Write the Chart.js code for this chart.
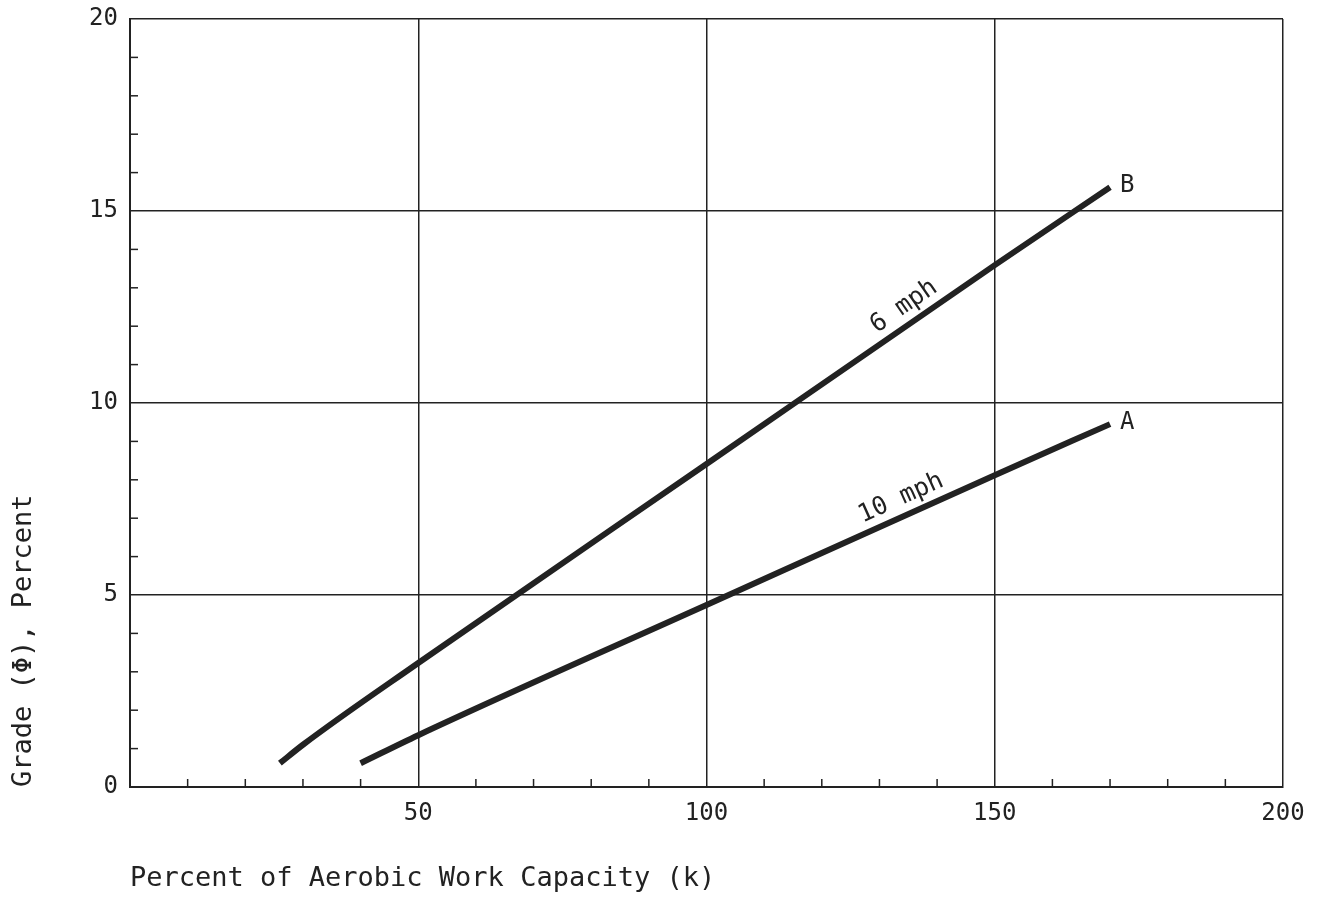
<!DOCTYPE html>
<html>
<head>
<meta charset="utf-8">
<title>Grade vs Aerobic Work Capacity</title>
<script src="https://cdn.jsdelivr.net/npm/chart.js@4.4.1/dist/chart.umd.min.js"></script>
<style>
  html, body { margin: 0; padding: 0; background: #fff; }
  #wrap { width: 1318px; height: 898px; }
</style>
</head>
<body>
<div id="wrap"><canvas id="chart"></canvas></div>
<script>
// values
const capacityB = [26, 30, 50, 100, 150, 170];
const gradeB    = [0.62, 1.1, 3.23, 8.41, 13.59, 15.62];
const capacityA = [40, 50, 100, 150, 170];
const gradeA    = [0.62, 1.35, 4.74, 8.12, 9.45];

const xTickLabels = [50, 100, 150, 200];
const yTickLabels = [0, 5, 10, 15, 20];

const curveNames = ['6 mph', '10 mph'];
const curveTags  = ['B', 'A'];
const labelAt    = [136, 135];   // capacity where the speed label sits

const INK = '#222';
const FONT = '"DejaVu Sans Mono", "Liberation Mono", monospace';

const toPoints = (xs, ys) => xs.map((x, i) => ({ x, y: ys[i] }));

// short inward ticks on both axes, and the curve labels
const extras = {
  id: 'extras',
  afterDatasetsDraw(chart) {
    const { ctx, chartArea: a, scales: { x, y } } = chart;
    ctx.save();
    ctx.strokeStyle = INK;
    ctx.lineWidth = 1.5;
    x.ticks.forEach(t => {
      if (t.value % 50 === 0) return;
      const px = x.getPixelForValue(t.value);
      ctx.beginPath(); ctx.moveTo(px, a.bottom); ctx.lineTo(px, a.bottom - 8); ctx.stroke();
    });
    y.ticks.forEach(t => {
      if (t.value % 5 === 0) return;
      const py = y.getPixelForValue(t.value);
      ctx.beginPath(); ctx.moveTo(a.left, py); ctx.lineTo(a.left + 8, py); ctx.stroke();
    });

    ctx.fillStyle = INK;
    chart.data.datasets.forEach((ds, i) => {
      const pts = chart.getDatasetMeta(i).data;
      // find the segment containing the label position
      const px = x.getPixelForValue(labelAt[i]);
      let k = 0;
      while (k < pts.length - 2 && pts[k + 1].x < px) k++;
      const p0 = pts[k], p1 = pts[k + 1];
      const ang = Math.atan2(p1.y - p0.y, p1.x - p0.x);
      const py = p0.y + (p1.y - p0.y) * (px - p0.x) / (p1.x - p0.x);
      ctx.save();
      ctx.translate(px, py);
      ctx.rotate(ang);
      ctx.font = '25px ' + FONT;
      ctx.textAlign = 'center';
      ctx.textBaseline = 'alphabetic';
      ctx.fillText(curveNames[i], 0, -11);
      ctx.restore();

      const end = pts[pts.length - 1];
      ctx.font = '24px ' + FONT;
      ctx.textAlign = 'left';
      ctx.textBaseline = 'middle';
      ctx.fillText(curveTags[i], end.x + 10, end.y - 1);
    });
    ctx.restore();
  }
};

new Chart(document.getElementById('chart'), {
  type: 'line',
  data: {
    datasets: [
      { label: 'B', data: toPoints(capacityB, gradeB) },
      { label: 'A', data: toPoints(capacityA, gradeA) },
    ],
  },
  options: {
    responsive: true,
    maintainAspectRatio: false,
    animation: false,
    layout: { padding: { top: 19, right: 35, left: 0, bottom: 0 } },
    elements: {
      line: { borderColor: INK, borderWidth: 6, tension: 0.3, cubicInterpolationMode: 'monotone', borderCapStyle: 'butt' },
      point: { radius: 0, hoverRadius: 0 },
    },
    plugins: { legend: { display: false }, tooltip: { enabled: false } },
    scales: {
      x: {
        type: 'linear', min: 0, max: 200,
        afterFit: s => { s.height = 111; s.paddingLeft = 0; s.paddingRight = 0; },
        ticks: {
          stepSize: 10, autoSkip: false, maxRotation: 0, padding: 12,
          color: INK, font: { family: FONT, size: 24 },
          callback: v => xTickLabels.includes(v) ? String(v) : '',
        },
        grid: {
          drawTicks: false,
          color: c => (c.tick && c.tick.value % 50 === 0) ? INK : 'rgba(0,0,0,0)',
          lineWidth: 1.5,
        },
        border: { display: true, color: INK, width: 2 },
        title: {
          display: true, text: 'Percent of Aerobic Work Capacity (k)', align: 'start',
          color: INK, font: { family: FONT, size: 27, lineHeight: 1.2 },
          padding: { top: 0, bottom: 3 },
        },
      },
      y: {
        type: 'linear', min: 0, max: 20,
        afterFit: s => { s.width = 130; s.paddingTop = 0; s.paddingBottom = 0; },
        ticks: {
          stepSize: 1, autoSkip: false, padding: 12,
          color: INK, font: { family: FONT, size: 24 },
          callback: v => yTickLabels.includes(v) ? String(v) : '',
        },
        grid: {
          drawTicks: false,
          color: c => (c.tick && c.tick.value % 5 === 0) ? INK : 'rgba(0,0,0,0)',
          lineWidth: 1.5,
        },
        border: { display: true, color: INK, width: 2 },
        title: {
          display: true, text: 'Grade (Φ), Percent', align: 'start',
          color: INK, font: { family: FONT, size: 27, lineHeight: 1.2 },
          padding: { top: 8, bottom: 0 },
        },
      },
    },
  },
  plugins: [extras],
});
</script>
</body>
</html>
